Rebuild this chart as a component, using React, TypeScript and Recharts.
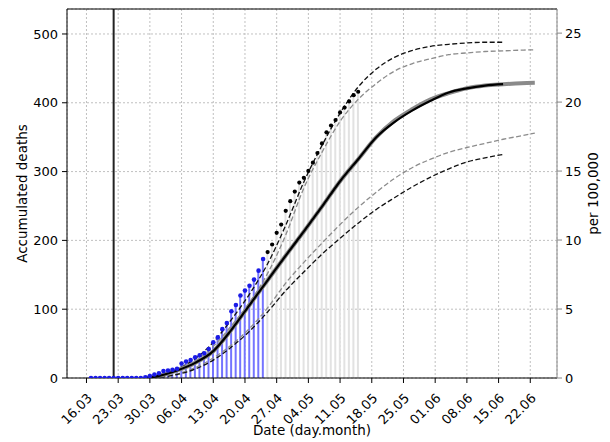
import React from 'react';
import { Bar, CartesianGrid, ComposedChart, Label, Line, ReferenceLine, XAxis, YAxis } from 'recharts';

// day 0 = 16.03
const stemDays = [
  1, 2, 3, 4, 5, 6, 7, 8, 9, 10, 11, 12, 13, 14, 15, 16, 17, 18, 19, 20,
  21, 22, 23, 24, 25, 26, 27, 28, 29, 30, 31, 32, 33, 34, 35, 36, 37, 38, 39, 40,
  41, 42, 43, 44, 45, 46, 47, 48, 49, 50, 51, 52, 53, 54, 55, 56, 57, 58, 59, 60,
];
const stemValues = [
  0, 0, 0, 0, 0, 0, 0, 0, 0, 0, 0, 0, 1, 3, 5, 7, 10, 11, 12, 13.5,
  21, 24, 26, 30, 33, 36, 42, 52, 59, 71, 80, 97, 106, 120, 127, 134, 143, 156, 173, 183,
  194, 211, 223, 243, 257, 271, 284, 291, 301, 313, 327, 341, 357, 367, 375, 386, 393, 402, 411, 416,
];
const lastReportedDay = 39;

const curveDays = [13, 16, 20, 24, 28, 32, 36, 40, 44, 48, 52, 56, 60, 64, 68, 72, 76, 80, 84, 88, 92, 96, 99];
const median = [0, 3, 11, 22, 39, 70, 106, 142, 178, 213, 249, 286, 318, 350, 372, 389, 403, 415, 421, 425, 427, null, null];
const medianLong = [0, 3, 11, 22, 39, 70, 106, 142, 178, 213, 249, 286, 318, 350, 374, 391, 405, 414, 421, 425, 427, 428.5, 429];
const upperBlack = [0, 4, 13, 28, 52, 85, 122, 166, 222, 285, 338, 385, 423, 449, 466, 476, 482, 485, 487, 488, 488, null, null];
const upperGray = [0, 3, 11, 25, 46, 76, 110, 152, 208, 276, 328, 373, 405, 428, 446, 457, 464, 470, 472.5, 474.5, 475.5, 476.5, 477];
const lowerGray = [0, 2, 6, 15, 29, 48, 72, 102, 138, 168, 196, 223, 248, 270, 290, 306, 318, 328, 335, 341, 347, 352, 356];
const lowerBlack = [0, 1, 5, 13, 26, 45, 68, 96, 127, 154, 180, 203, 225, 245, 262, 278, 292, 304, 314, 320, 325, null, null];

const lockdownDay = 6;
const xTickDays = [0, 7, 14, 21, 28, 35, 42, 49, 56, 63, 70, 77, 84, 91, 98];
const xTickLabels = ['16.03', '23.03', '30.03', '06.04', '13.04', '20.04', '27.04', '04.05', '11.05', '18.05', '25.05', '01.06', '08.06', '15.06', '22.06'];
const leftTicks = [0, 100, 200, 300, 400, 500];
const rightTicks = [0, 5, 10, 15, 20, 25];
const deathsPerUnit = 20.05;
const yMax = 536.3;

const rows = new Map<number, any>();
const row = (d: number) => {
  if (!rows.has(d)) rows.set(d, { day: d });
  return rows.get(d);
};
stemDays.forEach((d, i) => {
  const r = row(d);
  if (d <= lastReportedDay) {
    r.blueStem = stemValues[i];
    r.blueDot = stemValues[i];
  } else {
    r.grayStem = stemValues[i];
    r.blackDot = stemValues[i];
  }
});
curveDays.forEach((d, i) => {
  const r = row(d);
  if (median[i] != null) r.median = median[i];
  r.medianLong = medianLong[i];
  if (upperBlack[i] != null) r.upperBlack = upperBlack[i];
  r.upperGray = upperGray[i];
  r.lowerGray = lowerGray[i];
  if (lowerBlack[i] != null) r.lowerBlack = lowerBlack[i];
});
const data = [...rows.values()].sort((a, b) => a.day - b.day);

const font = '"DejaVu Sans", sans-serif';

function DateTick({ x, y, payload }: any) {
  const label = xTickLabels[xTickDays.indexOf(payload.value)];
  return (
    <text x={0} y={0} transform={`translate(${x + 6.5},${y + 14}) rotate(-45)`} textAnchor="end" fontSize={13} fontFamily={font} fill="#000">
      {label}
    </text>
  );
}

export default function App() {
  const dash = { strokeDasharray: '5 2.5', strokeWidth: 1.3 };
  return (
    <div style={{ position: 'absolute', left: 0, top: 0, background: '#fff' }}>
      <ComposedChart width={610} height={442} data={data} margin={{ top: 9, right: 0, left: 0, bottom: 0 }} style={{ fontFamily: font }}>
        <CartesianGrid yAxisId="left" stroke="#b0b0b0" strokeDasharray="2 2" strokeWidth={0.8} />
        <XAxis
          dataKey="day"
          type="number"
          domain={[-4.3, 103.9]}
          ticks={xTickDays}
          tick={<DateTick />}
          tickSize={5}
          height={64}
          allowDataOverflow
          stroke="#000"
          tickLine={{ stroke: '#000' }}
        >
          <Label value="Date (day.month)" position="insideBottom" offset={7} fontSize={13.5} fill="#000" />
        </XAxis>
        <YAxis
          yAxisId="left"
          width={67}
          domain={[0, yMax]}
          ticks={leftTicks}
          tickSize={5}
          tickMargin={4}
          allowDataOverflow
          stroke="#000"
          tick={{ fill: '#000', fontSize: 13 }}
        >
          <Label value="Accumulated deaths" angle={-90} position="insideLeft" offset={22} fontSize={13.5} fill="#000" style={{ textAnchor: 'middle' }} />
        </YAxis>
        <YAxis
          yAxisId="right"
          orientation="right"
          width={53}
          domain={[0, yMax / deathsPerUnit]}
          ticks={rightTicks}
          tickSize={5}
          tickMargin={3}
          allowDataOverflow
          stroke="#888"
          tick={{ fill: '#000', fontSize: 13 }}
        >
          <Label value="per 100,000" angle={-90} position="insideRight" offset={17} fontSize={13.5} fill="#000" style={{ textAnchor: 'middle' }} />
        </YAxis>

        <Bar yAxisId="left" dataKey="blueStem" stackId="s" barSize={2} fill="#7474ff" isAnimationActive={false} />
        <Bar yAxisId="left" dataKey="grayStem" stackId="s" barSize={2} fill="#e2e2e2" isAnimationActive={false} />

        <ReferenceLine yAxisId="left" x={lockdownDay} stroke="#222" strokeWidth={2} />
        <ReferenceLine yAxisId="left" y={yMax} stroke="#000" strokeWidth={1} />

        <Line yAxisId="left" type="monotone" dataKey="lowerGray" stroke="#8c8c8c" {...dash} dot={false} connectNulls isAnimationActive={false} />
        <Line yAxisId="left" type="monotone" dataKey="upperGray" stroke="#8c8c8c" {...dash} dot={false} connectNulls isAnimationActive={false} />
        <Line yAxisId="left" type="monotone" dataKey="lowerBlack" stroke="#111" {...dash} dot={false} connectNulls isAnimationActive={false} />
        <Line yAxisId="left" type="monotone" dataKey="upperBlack" stroke="#111" {...dash} dot={false} connectNulls isAnimationActive={false} />
        <Line yAxisId="left" type="monotone" dataKey="medianLong" stroke="#8a8a8a" strokeWidth={4} dot={false} connectNulls isAnimationActive={false} />
        <Line yAxisId="left" type="monotone" dataKey="median" stroke="#000" strokeWidth={2.2} dot={false} connectNulls isAnimationActive={false} />

        <Line yAxisId="left" dataKey="blueDot" stroke="none" dot={{ r: 2.3, fill: '#1a1ae6', stroke: 'none' }} activeDot={false} isAnimationActive={false} />
        <Line yAxisId="left" dataKey="blackDot" stroke="none" dot={{ r: 2.1, fill: '#000', stroke: 'none' }} activeDot={false} isAnimationActive={false} />
      </ComposedChart>
    </div>
  );
}
